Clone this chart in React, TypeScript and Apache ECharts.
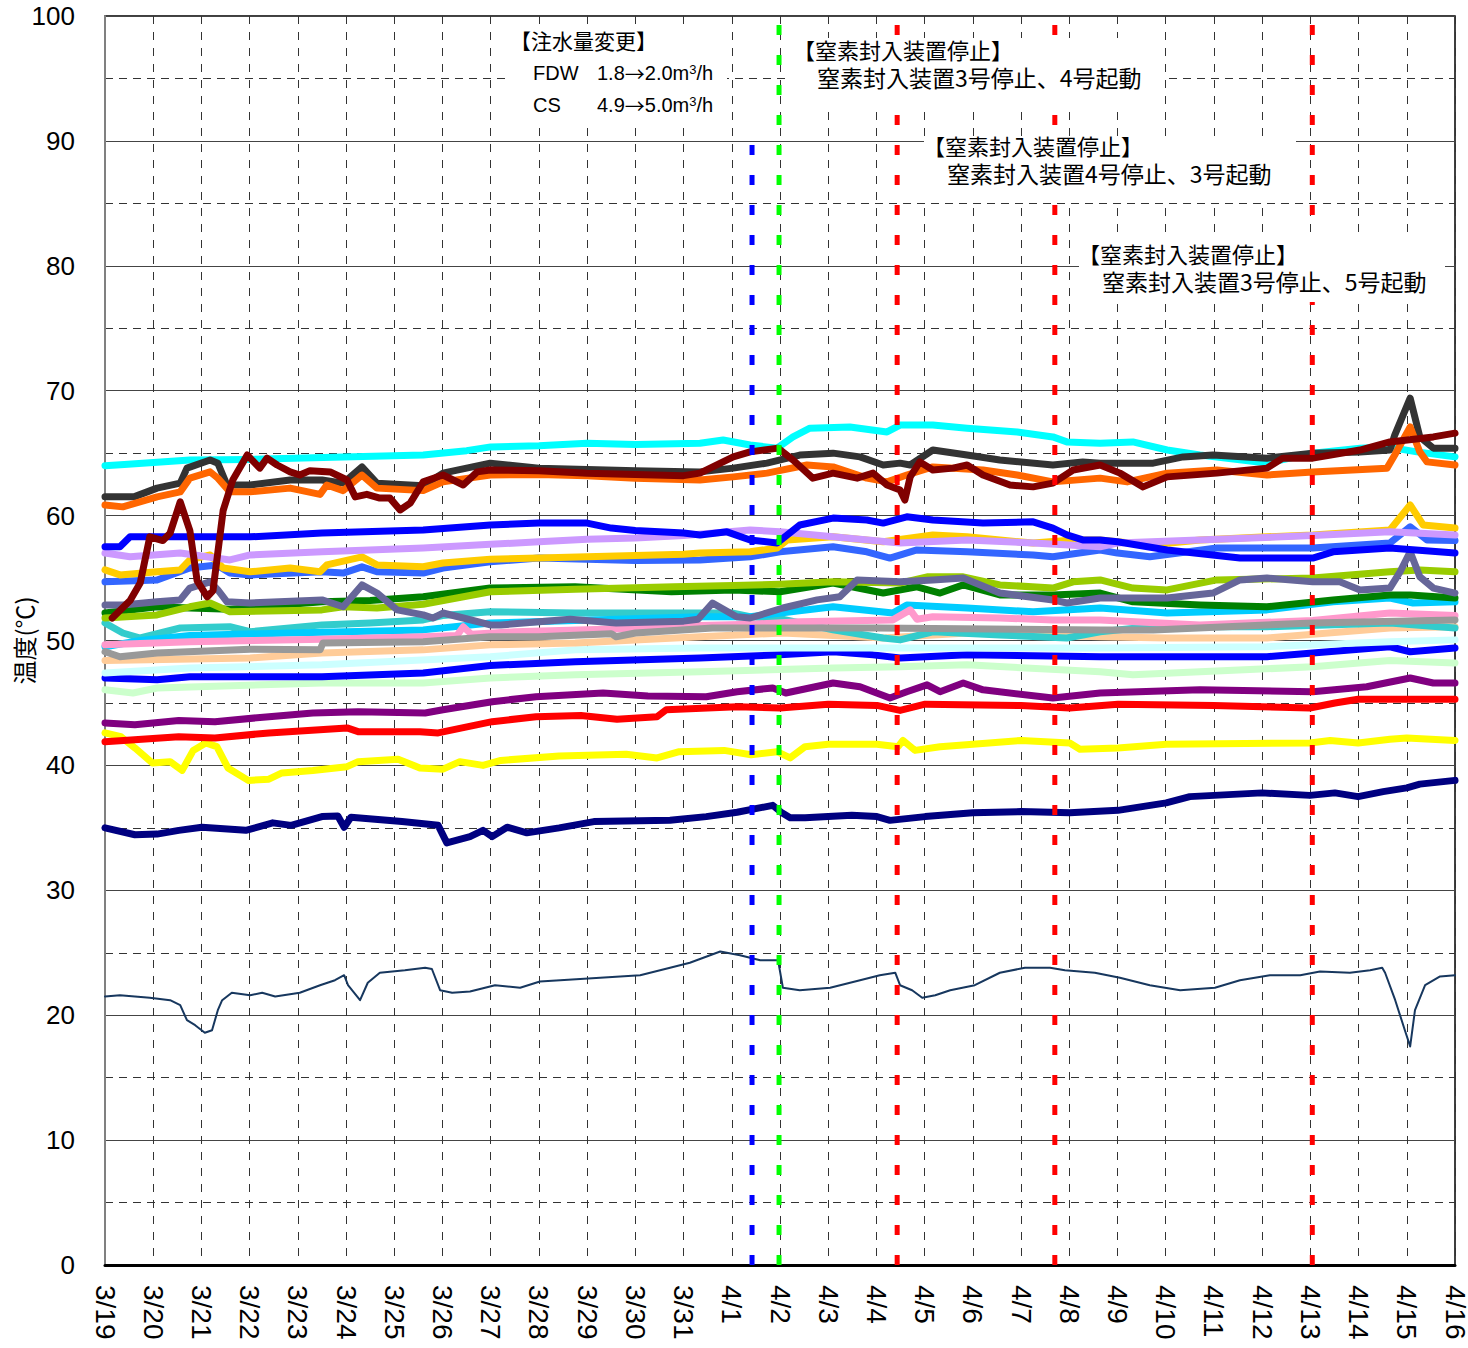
import React, { useEffect, useRef } from 'react';
import * as echarts from 'echarts';

// x = days since 3/19 (0 = 3/19, 28 = 4/16)
const DATE_LABELS = [
  '3/19', '3/20', '3/21', '3/22', '3/23', '3/24', '3/25', '3/26', '3/27', '3/28',
  '3/29', '3/30', '3/31', '4/1', '4/2', '4/3', '4/4', '4/5', '4/6', '4/7',
  '4/8', '4/9', '4/10', '4/11', '4/12', '4/13', '4/14', '4/15', '4/16',
];

const CYAN = [[0,64.0],[0.4,64.1],[1.76,64.45],[3,64.5],[4.94,64.7],[6.6,64.85],[7.5,65.2],[8,65.5],[9,65.6],[10,65.8],[11,65.7],[12.34,65.8],[12.82,66.05],[13.38,65.65],[13.94,65.4],[14.27,66.3],[14.62,67.0],[15.45,67.1],[16.22,66.7],[16.49,67.25],[17.17,67.25],[17.88,67.0],[18.92,66.7],[19.66,66.3],[19.95,65.9],[20.64,65.8],[21.32,65.9],[22.03,65.25],[22.71,64.85],[24.1,64.2],[25.05,65.0],[26.03,65.4],[26.59,65.5],[27.21,65.1],[28,64.7]];
const DARK_GRAY = [[0,61.5],[0.6,61.5],[1.08,62.2],[1.56,62.6],[1.7,63.8],[2.18,64.45],[2.34,64.2],[2.53,62.45],[3.01,62.45],[3.84,62.85],[4.5,62.85],[4.94,62.6],[5.33,63.9],[5.64,62.6],[6.6,62.4],[7.01,63.4],[7.99,64.2],[9,63.8],[10,63.7],[11,63.6],[12.34,63.5],[13.03,63.8],[13.73,64.2],[14.41,64.85],[15.1,65.0],[15.66,64.7],[16.14,64.05],[16.49,64.2],[16.7,64.05],[17.17,65.25],[17.88,64.85],[18.56,64.45],[19.66,64.05],[20.28,64.3],[20.64,64.2],[21.74,64.2],[22.36,64.7],[22.98,64.85],[24.1,64.6],[25.05,65.0],[26.03,65.1],[26.65,65.25],[26.75,66.45],[27.07,69.4],[27.27,66.3],[27.55,65.4],[28,65.4]];
const ORANGE = [[0,60.85],[0.37,60.7],[1.08,61.5],[1.56,61.9],[1.76,63.0],[2.18,63.5],[2.34,63.0],[2.59,61.9],[3.01,61.9],[3.84,62.2],[4.46,61.7],[4.6,62.45],[4.94,62.0],[5.33,63.25],[5.64,62.2],[6.6,62.0],[7.01,62.7],[7.99,63.25],[9,63.3],[10,63.2],[11,63.0],[12.34,62.85],[13.03,63.1],[13.73,63.4],[14.56,64.05],[15.1,63.9],[15.8,63.0],[16.22,62.7],[16.63,63.25],[17.17,63.9],[18.21,63.65],[18.92,63.25],[19.66,62.7],[20.64,63.0],[21.2,62.7],[22.03,63.4],[23.06,63.65],[24.1,63.25],[25.05,63.5],[26.59,63.8],[26.75,64.85],[27.07,67.1],[27.27,65.1],[27.42,64.3],[28,64.05]];
const MAROON = [[0.15,51.8],[0.52,53.2],[0.73,54.6],[0.93,58.3],[1.2,58.0],[1.35,58.6],[1.56,61.1],[1.76,58.8],[1.91,54.8],[2.12,53.5],[2.24,54.0],[2.45,60.4],[2.65,62.85],[2.95,64.85],[3.21,63.8],[3.36,64.6],[3.57,64.05],[3.84,63.5],[4.04,63.25],[4.25,63.6],[4.67,63.5],[5.02,62.85],[5.19,61.5],[5.43,61.7],[5.7,61.4],[5.91,61.4],[6.12,60.45],[6.33,61.0],[6.6,62.7],[7.01,63.25],[7.43,62.45],[7.72,63.5],[7.99,63.65],[9,63.6],[10,63.4],[11,63.3],[12,63.2],[12.34,63.4],[13.03,64.7],[13.38,65.1],[13.96,65.4],[14.27,64.45],[14.68,63.0],[15.1,63.4],[15.6,63.0],[15.93,63.4],[16.22,62.45],[16.49,62.05],[16.59,61.25],[16.7,63.1],[16.9,64.3],[17.17,63.65],[17.59,63.8],[17.88,64.05],[18.21,63.25],[18.77,62.45],[19.25,62.3],[19.66,62.6],[20.08,63.65],[20.64,64.05],[21.05,63.4],[21.53,62.3],[22.03,63.1],[23.06,63.4],[24.1,63.8],[24.43,64.6],[25.05,64.6],[26.03,65.25],[26.65,65.9],[27.55,66.3],[28,66.6]];
const BLUE_1 = [[0,57.5],[0.31,57.5],[0.52,58.3],[1.08,58.3],[3.01,58.3],[4.5,58.6],[6.6,58.85],[7.99,59.25],[9,59.4],[10,59.4],[10.5,59.0],[11,58.8],[12,58.6],[12.34,58.45],[12.9,58.7],[13.38,58.05],[13.94,57.8],[14.41,59.25],[15.1,59.8],[15.8,59.65],[16.14,59.4],[16.63,59.9],[17.17,59.65],[18.21,59.4],[19.25,59.5],[19.66,59.0],[19.95,58.45],[20.28,58.05],[20.64,58.05],[21.0,57.9],[22.03,57.25],[23.54,56.6],[25.05,56.6],[25.47,57.1],[26.65,57.4],[28,57.0]];
const LAVENDER = [[0,57.0],[0.52,56.7],[1.56,57.0],[2.59,56.45],[3.01,56.85],[4.5,57.1],[6.6,57.4],[7.99,57.7],[9,57.9],[10,58.1],[11,58.2],[12,58.4],[13.38,58.85],[14,58.7],[15.1,58.3],[16.49,57.8],[17.88,58.05],[19.25,57.8],[20.64,57.5],[21,57.8],[25.05,58.4],[26.65,58.7],[28,58.45]];
const GOLD = [[0,55.65],[0.31,55.25],[1.08,55.5],[1.56,55.65],[1.76,56.45],[2.18,56.85],[2.45,55.8],[3.01,55.5],[3.84,55.8],[4.46,55.5],[4.6,56.05],[5.33,56.7],[5.64,56.05],[6.6,55.9],[7.01,56.2],[7.99,56.5],[9,56.6],[10,56.7],[11,56.8],[12,56.9],[12.34,57.0],[13.38,57.1],[13.94,57.4],[14.15,58.05],[15.1,58.3],[16.14,57.9],[17.17,58.45],[17.88,58.3],[19.25,57.8],[20.08,58.05],[20.64,58.05],[21.67,57.65],[22.71,58.05],[24.1,58.3],[25.05,58.45],[26.65,58.85],[27.07,60.85],[27.34,59.25],[28,59.0]];
const MID_BLUE = [[0,54.7],[1.08,54.85],[1.76,55.8],[2.32,56.05],[2.59,55.4],[3.01,55.25],[4.5,55.5],[4.94,55.4],[5.33,55.9],[5.64,55.5],[6.6,55.4],[7.01,55.8],[7.99,56.3],[9,56.6],[10,56.5],[11,56.4],[12.34,56.45],[13.38,56.7],[14,57.1],[15.1,57.5],[15.8,57.1],[16.28,56.6],[16.84,57.25],[17.88,57.1],[19.25,56.85],[19.66,56.7],[20.64,57.25],[21.0,57.0],[21.67,56.7],[23.06,57.4],[25.05,57.4],[26.65,57.8],[27.07,59.1],[27.42,58.05],[28,58.0]];
const SLATE = [[0,52.85],[0.37,52.85],[1.08,53.1],[1.56,53.25],[1.76,54.2],[2.18,54.7],[2.34,54.05],[2.53,53.1],[3.01,53.0],[4.5,53.25],[4.94,52.7],[5.33,54.45],[5.64,53.8],[6.06,52.45],[6.6,52.05],[6.8,51.8],[7.01,52.2],[7.43,51.8],[7.99,51.25],[8.21,51.25],[9.65,51.7],[10.6,51.4],[12,51.55],[12.3,51.7],[12.6,53.0],[13.1,51.9],[13.38,51.8],[14.06,52.6],[14.77,53.25],[15.24,53.5],[15.6,54.85],[16.49,54.7],[17.17,54.85],[17.8,55.0],[18.56,53.8],[19.66,53.25],[19.95,53.0],[20.64,53.4],[22.03,53.4],[22.98,53.8],[23.54,54.85],[24.1,55.0],[25.05,54.7],[25.61,54.7],[26.03,54.05],[26.65,54.2],[26.86,55.5],[27.07,57.1],[27.27,55.1],[27.55,54.2],[28,53.8]];
const GREEN = [[0,52.2],[1.08,52.7],[1.76,52.6],[2.59,52.5],[4.5,53.1],[5.5,53.2],[6.6,53.5],[7.99,54.2],[9.75,54.3],[11.75,53.9],[13.03,54.05],[14.0,53.9],[15.1,54.6],[16.14,53.8],[16.84,54.3],[17.32,53.8],[17.8,54.45],[18.56,53.65],[19.66,53.65],[20.64,53.8],[21.32,53.1],[22.71,52.85],[24.1,52.7],[25.47,53.25],[26.65,53.65],[27.07,53.65],[28,53.4]];
const YELLOW_GREEN = [[0,51.8],[1.08,52.05],[1.76,52.7],[2.18,53.0],[2.59,52.3],[4.5,52.45],[4.94,52.7],[5.64,52.6],[6.6,52.9],[7.99,53.9],[9.75,54.1],[11.8,54.3],[13.03,54.4],[14,54.5],[15.1,54.7],[16.49,54.6],[17.05,55.1],[17.8,55.1],[18.56,54.45],[19.66,54.2],[20.08,54.7],[20.64,54.85],[21.32,54.2],[22.03,54.05],[23.06,54.85],[25.05,55.0],[26.65,55.5],[27.27,55.65],[28,55.5]];
const TEAL = [[0,51.4],[0.37,50.6],[0.73,50.2],[1.56,51.0],[2.59,51.1],[3.01,50.7],[4.5,51.25],[5.5,51.4],[6.6,51.65],[7.0,52.0],[7.99,52.3],[9.75,52.2],[11.8,52.2],[13.0,52.2],[13.38,51.9],[14.0,51.75],[15.1,50.85],[16.14,50.2],[16.49,50.05],[17.17,50.7],[18.56,50.45],[19.95,50.2],[20.64,50.7],[21.67,51.1],[24.1,51.1],[26.65,51.4],[28,51.0]];
const SKY_BLUE = [[0,49.5],[0.73,50.0],[1.76,50.4],[3.84,50.6],[6.6,50.85],[7.99,51.4],[9.75,51.6],[12.34,51.9],[13.38,51.9],[15.1,52.7],[16.34,52.2],[16.63,52.85],[17.88,52.6],[19.25,52.3],[20.64,52.6],[22.03,52.2],[24.1,52.45],[25.47,53.1],[26.65,53.4],[27.13,53.0],[28,53.1]];
const PINK = [[0,49.65],[1.76,49.9],[4.5,50.1],[6.6,50.3],[7.3,50.4],[7.43,51.1],[7.6,50.5],[8.5,50.7],[11.3,51.0],[12.34,51.2],[13.38,51.3],[14.41,51.5],[16.34,51.65],[16.7,52.45],[16.84,51.7],[17.17,51.9],[18.56,51.8],[19.66,51.65],[20.64,51.65],[22.71,51.25],[25.05,51.6],[26.65,52.2],[28,52.0]];
const GRAY = [[0,49.1],[0.31,48.7],[1.08,49.0],[3.01,49.3],[4.46,49.25],[4.52,49.8],[6.6,49.9],[7.99,50.3],[9,50.3],[10.5,50.55],[10.6,50.3],[11,50.6],[12.6,51.0],[14,51.0],[16,51.0],[20.64,50.85],[21.74,50.85],[25.05,51.4],[28,51.65]];
const PEACH = [[0,48.4],[3.01,48.6],[4.5,49.0],[6.6,49.25],[7.99,49.65],[9.75,49.8],[12.34,50.3],[14.06,50.6],[16.14,50.2],[17.88,50.6],[20.64,50.3],[22.03,50.2],[24.1,50.2],[26.65,51.0],[28,51.1]];
const LIGHT_CYAN = [[0,47.4],[1.76,47.8],[4.5,48.05],[7.99,48.7],[9.75,49.25],[12.34,49.4],[16.49,49.4],[20.64,49.4],[24.1,49.5],[26.65,49.9],[28,50.05]];
const BLUE_2 = [[0,47.0],[1.08,46.85],[1.76,47.1],[4.5,47.1],[6.6,47.4],[7.99,48.0],[9.75,48.3],[12.34,48.6],[14.0,48.85],[15.1,49.1],[15.93,48.85],[16.49,48.6],[17.88,48.85],[20.64,48.7],[24.1,48.7],[25.05,49.0],[26.65,49.5],[27.07,49.1],[28,49.4]];
const LIGHT_GREEN = [[0,46.05],[0.58,45.8],[1.08,46.2],[4.5,46.6],[6.6,46.6],[7.99,47.0],[9.75,47.25],[12.34,47.5],[15.1,47.8],[16.49,47.9],[17.88,48.05],[20.64,47.5],[21.32,47.25],[22.71,47.5],[25.05,47.9],[26.65,48.4],[28,48.2]];
const PURPLE = [[0,43.4],[0.62,43.25],[1.53,43.6],[2.28,43.5],[3.4,43.9],[4.31,44.2],[5.25,44.3],[6.64,44.2],[7.01,44.45],[8.03,45.1],[8.94,45.5],[10.33,45.8],[11.26,45.55],[12.47,45.5],[13.11,45.9],[13.85,46.2],[14.12,45.8],[15.1,46.6],[15.66,46.3],[16.28,45.4],[16.63,45.9],[17.05,46.45],[17.32,45.9],[17.8,46.6],[18.21,46.05],[19.66,45.4],[20.64,45.8],[22.71,46.05],[25.05,45.9],[26.17,46.3],[27.07,47.0],[27.55,46.6],[28,46.6]];
const RED = [[0,41.9],[1.53,42.3],[2.28,42.2],[3.4,42.6],[5.02,43.0],[5.25,42.7],[6.53,42.7],[6.91,42.6],[8.03,43.5],[8.94,43.9],[9.87,44.0],[10.62,43.7],[11.45,43.9],[11.64,44.45],[13.11,44.7],[14.0,44.6],[15.0,44.9],[16.01,44.8],[16.49,44.4],[17.01,44.9],[19.0,44.8],[20.01,44.6],[21.01,44.9],[23,44.8],[24.99,44.6],[25.51,45.0],[25.99,45.3],[28,45.3]];
const YELLOW = [[0,42.6],[0.33,42.3],[0.62,41.4],[0.98,40.2],[1.35,40.3],[1.6,39.6],[1.83,41.2],[2.09,41.8],[2.32,41.5],[2.55,39.8],[2.97,38.8],[3.4,38.9],[3.67,39.4],[4.31,39.6],[5.02,39.9],[5.25,40.3],[6.08,40.5],[6.53,39.8],[7.01,39.7],[7.36,40.3],[7.84,40.0],[8.21,40.4],[9.42,40.75],[10.81,40.9],[11.45,40.6],[11.91,41.1],[12.84,41.2],[13.4,40.85],[13.94,41.1],[14.21,40.6],[14.52,41.5],[15.0,41.7],[16.01,41.7],[16.45,41.5],[16.55,42.0],[16.8,41.2],[17.32,41.5],[18.0,41.7],[19.0,42.0],[20.01,41.8],[20.22,41.3],[21.01,41.4],[22.01,41.7],[24.99,41.8],[25.41,42.0],[25.99,41.8],[26.65,42.1],[27.0,42.2],[28,42.0]];
const NAVY = [[0,35.0],[0.62,34.45],[1.08,34.5],[1.53,34.8],[2.01,35.05],[2.92,34.8],[3.48,35.4],[3.86,35.2],[4.5,35.9],[4.83,35.95],[4.96,35.05],[5.1,35.85],[6.16,35.5],[6.91,35.2],[7.09,33.8],[7.57,34.3],[7.84,34.8],[8.03,34.3],[8.34,35.05],[8.75,34.6],[9.42,35.0],[10.14,35.5],[11.72,35.6],[12.47,35.9],[13.11,36.25],[13.85,36.8],[14.04,36.2],[14.21,35.8],[14.52,35.8],[15.0,35.9],[15.49,36.0],[16.01,35.9],[16.28,35.6],[17.01,35.9],[18.0,36.2],[19.0,36.3],[20.01,36.2],[21.01,36.4],[22.01,37.0],[22.5,37.5],[23.0,37.6],[24.0,37.8],[24.99,37.6],[25.51,37.8],[25.99,37.5],[26.51,37.9],[27.0,38.2],[27.27,38.5],[28,38.8]];
const THIN = [[0,21.5],[0.31,21.6],[0.93,21.4],[1.35,21.2],[1.56,20.8],[1.7,19.6],[1.87,19.2],[2.07,18.6],[2.22,18.8],[2.34,20.4],[2.43,21.2],[2.63,21.8],[3.01,21.6],[3.26,21.8],[3.53,21.5],[4.04,21.8],[4.46,22.4],[4.77,22.8],[4.96,23.2],[5.04,22.4],[5.29,21.2],[5.45,22.6],[5.7,23.4],[6.22,23.6],[6.64,23.8],[6.78,23.7],[6.95,22.0],[7.2,21.8],[7.57,21.9],[8.09,22.4],[8.61,22.2],[9.02,22.7],[9.44,22.8],[10.27,23.0],[11.1,23.2],[11.72,23.8],[12.13,24.2],[12.76,25.1],[13.17,24.8],[13.59,24.4],[13.96,24.4],[14.06,22.2],[14.41,22.0],[15.04,22.2],[15.66,22.8],[16.07,23.2],[16.39,23.4],[16.49,22.4],[16.74,22.0],[16.95,21.4],[17.22,21.6],[17.53,22.0],[18.04,22.4],[18.56,23.4],[19.08,23.8],[19.6,23.8],[19.91,23.6],[20.53,23.4],[21.05,23.0],[21.67,22.4],[22.3,22.0],[23.02,22.2],[23.54,22.8],[24.16,23.2],[24.79,23.2],[25.2,23.5],[25.82,23.4],[26.24,23.6],[26.49,23.8],[26.55,23.4],[26.76,21.2],[26.96,18.8],[27.07,17.5],[27.17,20.4],[27.38,22.4],[27.69,23.1],[28,23.2]];

// drawing order: first is bottom
const SERIES_DEFS = [
  { name: 'thin', color: '#17375E', width: 2, data: THIN },
  { name: 'navy', color: '#000080', width: 7, data: NAVY },
  { name: 'yellow', color: '#FFFF00', width: 7, data: YELLOW },
  { name: 'red', color: '#FF0000', width: 7, data: RED },
  { name: 'purple', color: '#800080', width: 7, data: PURPLE },
  { name: 'lightGreen', color: '#CCFFCC', width: 7, data: LIGHT_GREEN },
  { name: 'blue2', color: '#0000FF', width: 7, data: BLUE_2 },
  { name: 'lightCyan', color: '#CCFFFF', width: 7, data: LIGHT_CYAN },
  { name: 'peach', color: '#FFCC99', width: 7, data: PEACH },
  { name: 'teal', color: '#33CCCC', width: 7, data: TEAL },
  { name: 'skyBlue', color: '#00CCFF', width: 7, data: SKY_BLUE },
  { name: 'pink', color: '#FF99CC', width: 7, data: PINK },
  { name: 'gray', color: '#999999', width: 7, data: GRAY },
  { name: 'green', color: '#008000', width: 7, data: GREEN },
  { name: 'yellowGreen', color: '#99CC00', width: 7, data: YELLOW_GREEN },
  { name: 'slate', color: '#666699', width: 7, data: SLATE },
  { name: 'midBlue', color: '#3366FF', width: 7, data: MID_BLUE },
  { name: 'gold', color: '#FFCC00', width: 7, data: GOLD },
  { name: 'lavender', color: '#CC99FF', width: 7, data: LAVENDER },
  { name: 'blue1', color: '#0000FF', width: 7, data: BLUE_1 },
  { name: 'cyan', color: '#00FFFF', width: 7, data: CYAN },
  { name: 'darkGray', color: '#333333', width: 7, data: DARK_GRAY },
  { name: 'orange', color: '#FF6600', width: 7, data: ORANGE },
  { name: 'maroon', color: '#800000', width: 7, data: MAROON },
];

const EVENT_TIMES = [13.42, 13.98, 16.43, 19.7, 25.04];
const EVENT_TOPS = [90.8, 100, 100, 100, 100];
const EVENT_COLORS = ['#0000FF', '#00FF00', '#FF0000', '#FF0000', '#FF0000'];

const NOTE_TITLE = '【窒素封入装置停止】';
const NOTE_LINES = [
  '窒素封入装置3号停止、4号起動',
  '窒素封入装置4号停止、3号起動',
  '窒素封入装置3号停止、5号起動',
];

const JP = '"Noto Sans CJK JP", sans-serif';
const LAT = '"Liberation Sans", Arial, sans-serif';

function box(x: number, y: number, w: number, h: number) {
  return { type: 'rect', silent: true, z: 100, shape: { x, y, width: w, height: h }, style: { fill: '#ffffff' } };
}
function txt(x: number, y: number, text: string, size: number, family: string) {
  return {
    type: 'text', silent: true, z: 101, x, y,
    style: { text, fill: '#000', fontSize: size, fontFamily: family, verticalAlign: 'middle', align: 'left' },
  };
}
function note(x: number, y: number, line: string) {
  return {
    type: 'text', silent: true, z: 101, x, y,
    style: {
      text: `{t|${NOTE_TITLE}}\n{b|${line}}`,
      align: 'left', verticalAlign: 'top',
      rich: {
        t: { fontSize: 22, fontFamily: JP, fill: '#000', lineHeight: 28 },
        b: { fontSize: 23, fontFamily: JP, fill: '#000', lineHeight: 28, padding: [0, 0, 0, 24] },
      },
    },
  };
}
function flow(x: number, y: number, from: string, to: string) {
  return {
    type: 'text', silent: true, z: 101, x, y,
    style: {
      text: `{n|${from}}{a|→}{n|${to}m}{s|3}{n|/h}`,
      verticalAlign: 'middle', align: 'left',
      rich: {
        n: { fontSize: 20, fontFamily: LAT, fill: '#000', lineHeight: 20 },
        a: { fontSize: 20, fontFamily: JP, fill: '#000', lineHeight: 20 },
        s: { fontSize: 13, fontFamily: LAT, fill: '#000', lineHeight: 20, verticalAlign: 'top', padding: [0, 0, 8, 0] },
      },
    },
  };
}

export default function App() {
  const ref = useRef<HTMLDivElement>(null);
  useEffect(() => {
    if (!ref.current) return;
    const chart = echarts.init(ref.current, undefined, { renderer: 'svg' });
    const dataSeries = SERIES_DEFS.map((s) => ({
      name: s.name,
      type: 'line',
      data: s.data,
      symbol: 'none',
      smooth: false,
      silent: true,
      lineStyle: { color: s.color, width: s.width, cap: 'round', join: 'round' },
    }));
    const eventSeries = EVENT_TIMES.map((t, i) => ({
      name: 'event' + i,
      type: 'line',
      data: [[t, 0], [t, EVENT_TOPS[i]]],
      symbol: 'none',
      silent: true,
      lineStyle: { color: EVENT_COLORS[i], width: 5, type: [10, 20] },
    }));
    chart.setOption({
      animation: false,
      backgroundColor: '#ffffff',
      grid: {
        left: 105, right: 13, top: 16, bottom: 83, show: true, borderColor: '#000', borderWidth: 1.5,
        outerBoundsMode: 'none', containLabel: false,
      },
      xAxis: {
        type: 'value', min: 0, max: 28, interval: 1,
        axisLine: { show: true, onZero: false, lineStyle: { color: '#000', width: 3 } },
        axisTick: { show: false },
        axisLabel: {
          rotate: -90, margin: 20, fontSize: 28, fontFamily: LAT, color: '#000',
          formatter: (v: number) => DATE_LABELS[Math.round(v)] ?? '',
        },
        splitLine: { show: true, lineStyle: { color: '#333', width: 1, type: [8, 8] } },
      },
      yAxis: {
        type: 'value', min: 0, max: 100, interval: 10,
        name: '温度(℃)', nameLocation: 'middle', nameGap: 70, nameMoveOverlap: false,
        nameTextStyle: { fontSize: 24, fontFamily: JP, color: '#000' },
        axisLine: { show: true, lineStyle: { color: '#808080', width: 2 } },
        axisTick: { show: false },
        axisLabel: { margin: 30, fontSize: 26, fontFamily: LAT, color: '#000' },
        splitLine: { show: true, lineStyle: { color: '#444', width: 1 } },
        minorTick: { show: false, splitNumber: 2 },
        minorSplitLine: { show: true, lineStyle: { color: '#333', width: 1, type: [8, 6] } },
      },
      graphic: { elements: [
        box(505, 28, 222, 100),
        txt(510, 40, '【注水量変更】', 21, JP),
        txt(533, 73, 'FDW', 20, LAT),
        flow(597, 73, '1.8', '2.0'),
        txt(533, 105, 'CS', 20, LAT),
        flow(597, 105, '4.9', '5.0'),
        box(788, 38, 377, 70),
        note(793, 35, NOTE_LINES[0]),
        box(924, 138, 372, 62),
        note(923, 131, NOTE_LINES[1]),
        box(1079, 232, 366, 70),
        note(1078, 239, NOTE_LINES[2]),
      ] },
      series: [...dataSeries, ...eventSeries],
    });
    return () => chart.dispose();
  }, []);
  return <div ref={ref} style={{ position: 'absolute', left: 0, top: 0, width: 1468, height: 1348 }} />;
}
